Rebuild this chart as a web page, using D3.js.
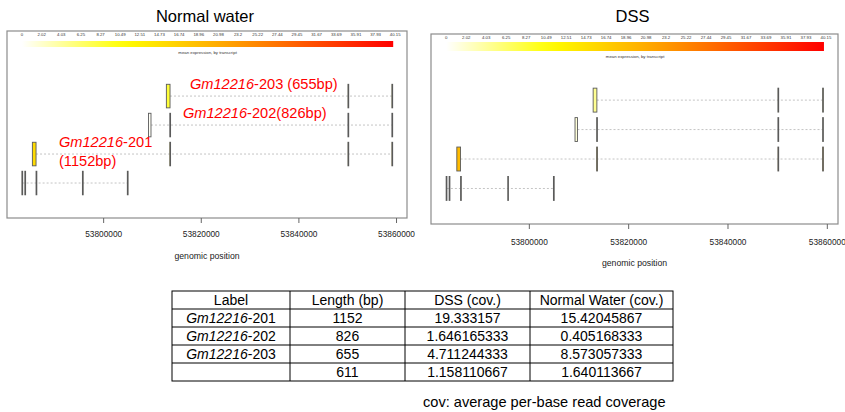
<!DOCTYPE html>
<html>
<head>
<meta charset="utf-8">
<script src="https://cdn.jsdelivr.net/npm/d3@7"></script>
<style>
  body { margin: 0; background: #fff; }
  svg { font-family: "Liberation Sans", Arial, sans-serif; }
</style>
</head>
<body>
<svg id="chart" width="845" height="412"></svg>
<script>
// transcripts, top row first in the plots
const transcriptIds = ['203', '202', '201', 'x'];
const transcriptNames = ['Gm12216-203', 'Gm12216-202', 'Gm12216-201', ''];
const transcriptLengths = [655, 826, 1152, 611];
const dssCov = [4.711244333, 1.646165333, 19.333157, 1.158110667];
const normalCov = [8.573057333, 0.405168333, 15.42045867, 1.640113667];

// exon [start, end] per transcript, genomic coords
const exons203 = [[53812950, 53813700], [53850150, 53850300], [53859150, 53859300]];
const exons202 = [[53809300, 53809800], [53813650, 53813800], [53850150, 53850300], [53859150, 53859300]];
const exons201 = [[53785500, 53786250], [53813650, 53813800], [53850150, 53850300], [53859150, 53859300]];
const exonsX = [[53783350, 53783500], [53783950, 53784100], [53786250, 53786400], [53795750, 53795900], [53804950, 53805100]];
const exonSets = [exons203, exons202, exons201, exonsX];

const positionTicks = [53800000, 53820000, 53840000, 53860000];
const colorbarLabels = ['0', '2.02', '4.03', '6.25', '8.27', '10.49', '12.51', '14.73', '16.74', '18.96',
  '20.98', '23.2', '25.22', '27.44', '29.45', '31.67', '33.69', '35.91', '37.93', '40.15'];

// table
const tableHeader = ['Label', 'Length (bp)', 'DSS (cov.)', 'Normal Water (cov.)'];
const tableLabels = ['Gm12216-201', 'Gm12216-202', 'Gm12216-203', ''];
const tableLengths = ['1152', '826', '655', '611'];
const tableDss = ['19.333157', '1.646165333', '4.711244333', '1.158110667'];
const tableNormal = ['15.42045867', '0.405168333', '8.573057333', '1.640113667'];

const svg = d3.select('#chart');

const colorScale = d3.scaleLinear()
  .domain([0, 11, 22, 40.15])
  .range(['#ffffff', '#ffff00', '#ffa500', '#ff0000']);

const panels = [
  { title: 'Normal water', values: normalCov, x0: 7, y0: 31, x1: 407, y1: 218,
    cbY: 41, cbH: 6, cbLabelY: 35.5, cbCapY: 53.5, tickLabelY: 237, xLabelY: 259, labels: true },
  { title: 'DSS', values: dssCov, x0: 431, y0: 34, x1: 838, y1: 224,
    cbY: 42, cbH: 9, cbLabelY: 38.5, cbCapY: 57.5, tickLabelY: 245, xLabelY: 266, labels: false }
];

const defs = svg.append('defs');
const grad = defs.append('linearGradient').attr('id', 'cbGrad');
d3.range(0, 1.0001, 0.05).forEach(t => {
  grad.append('stop').attr('offset', t).attr('stop-color', colorScale(t * 40.15));
});

panels.forEach(p => {
  const g = svg.append('g');
  const w = p.x1 - p.x0, h = p.y1 - p.y0;
  const cx = (p.x0 + p.x1) / 2;

  const x = d3.scaleLinear().domain([53780300, 53862250]).range([p.x0, p.x1]);
  const y = d3.scalePoint().domain(transcriptIds).range([p.y0 + 0.348 * h, p.y0 + 0.813 * h]);
  const barH = 0.126 * h;

  g.append('text')
    .attr('x', cx - 2).attr('y', 22)
    .attr('text-anchor', 'middle')
    .attr('font-size', 16.5)
    .text(p.title);

  g.append('rect')
    .attr('x', p.x0).attr('y', p.y0).attr('width', w).attr('height', h)
    .attr('fill', 'none').attr('stroke', '#8c8c8c').attr('stroke-width', 1.2);

  // colour bar
  const cbX0 = p.x0 + 0.0375 * w, cbX1 = p.x0 + 0.9655 * w;
  g.append('rect')
    .attr('x', cbX0).attr('y', p.cbY).attr('width', cbX1 - cbX0).attr('height', p.cbH)
    .attr('fill', 'url(#cbGrad)');
  const cbPos = d3.scalePoint().domain(colorbarLabels).range([cbX0, cbX1 + 2]);
  g.selectAll('.cbl').data(colorbarLabels).join('text')
    .attr('x', d => cbPos(d)).attr('y', p.cbLabelY)
    .attr('text-anchor', 'middle').attr('font-size', 4.3).attr('fill', '#333')
    .text(d => d);
  g.append('text')
    .attr('x', (cbX0 + cbX1) / 2).attr('y', p.cbCapY)
    .attr('text-anchor', 'middle').attr('font-size', 4.3).attr('fill', '#333')
    .text('mean expression, by transcript');

  // introns
  transcriptIds.forEach((id, i) => {
    const ex = exonSets[i];
    g.append('line')
      .attr('x1', x(ex[0][1])).attr('x2', x(ex[ex.length - 1][0]))
      .attr('y1', y(id)).attr('y2', y(id))
      .attr('stroke', '#c4c4c4').attr('stroke-width', 1)
      .attr('stroke-dasharray', '2,2');
  });

  // exons
  transcriptIds.forEach((id, i) => {
    const fill = colorScale(p.values[i]);
    g.selectAll('.ex' + id).data(exonSets[i]).join('rect')
      .attr('x', d => x(d[0]))
      .attr('y', y(id) - barH / 2)
      .attr('width', d => Math.max(x(d[1]) - x(d[0]), 0.8))
      .attr('height', barH)
      .attr('fill', fill)
      .attr('stroke', '#5a5a5a').attr('stroke-width', 0.9);
  });

  // axis
  const axis = g.append('g')
    .attr('transform', `translate(0,${p.y1})`)
    .call(d3.axisBottom(x).tickValues(positionTicks).tickSize(5).tickSizeOuter(0).tickFormat(d3.format('d')));
  axis.select('.domain').remove();
  axis.selectAll('.tick line').attr('stroke', '#666');
  axis.selectAll('.tick text').attr('y', null).attr('dy', null)
    .attr('transform', `translate(0,${p.tickLabelY - p.y1})`)
    .attr('font-size', 8.3).attr('fill', '#222')
    .attr('font-family', '"Liberation Sans", Arial, sans-serif');

  g.append('text')
    .attr('x', cx).attr('y', p.xLabelY)
    .attr('text-anchor', 'middle').attr('font-size', 8.7).attr('fill', '#222')
    .text('genomic position');

  if (p.labels) {
    const lab = (tx, ty, name, rest) => {
      const t = g.append('text').attr('x', tx).attr('y', ty)
        .attr('font-size', 14.6).attr('fill', '#f00');
      if (name) t.append('tspan').attr('font-style', 'italic').text(name);
      t.append('tspan').text(rest);
    };
    lab(190, 89, 'Gm12216', '-203 (' + transcriptLengths[0] + 'bp)');
    lab(183, 118, 'Gm12216', '-202(' + transcriptLengths[1] + 'bp)');
    lab(59, 147, 'Gm12216', '-201');
    lab(59, 166, '', '(' + transcriptLengths[2] + 'bp)');
  }
});

// table
const colEdges = [172, 290, 405, 530, 673];
const rowTop = 291, rowH = 18;
const tableRows = tableLabels.map((l, i) => [l, tableLengths[i], tableDss[i], tableNormal[i]]);
const allRows = [tableHeader].concat(tableRows);
const tg = svg.append('g');

tg.append('rect')
  .attr('x', colEdges[0]).attr('y', rowTop)
  .attr('width', colEdges[4] - colEdges[0]).attr('height', rowH * allRows.length)
  .attr('fill', 'none').attr('stroke', '#000').attr('stroke-width', 1);
colEdges.slice(1, 4).forEach(ex => {
  tg.append('line').attr('x1', ex).attr('x2', ex)
    .attr('y1', rowTop).attr('y2', rowTop + rowH * allRows.length)
    .attr('stroke', '#000');
});
d3.range(1, allRows.length).forEach(r => {
  tg.append('line').attr('x1', colEdges[0]).attr('x2', colEdges[4])
    .attr('y1', rowTop + r * rowH).attr('y2', rowTop + r * rowH)
    .attr('stroke', '#000');
});

allRows.forEach((row, r) => {
  row.forEach((cell, c) => {
    const t = tg.append('text')
      .attr('x', (colEdges[c] + colEdges[c + 1]) / 2)
      .attr('y', rowTop + r * rowH + rowH / 2 + 5)
      .attr('text-anchor', 'middle').attr('font-size', 14).attr('fill', '#000');
    if (r > 0 && c === 0 && cell) {
      const parts = cell.split('-');
      t.append('tspan').attr('font-style', 'italic').text(parts[0]);
      t.append('tspan').text('-' + parts[1]);
    } else {
      t.text(cell);
    }
  });
});

svg.append('text')
  .attr('x', 423).attr('y', 407)
  .attr('font-size', 14.6).attr('fill', '#000')
  .text('cov: average per-base read coverage');
</script>
</body>
</html>
